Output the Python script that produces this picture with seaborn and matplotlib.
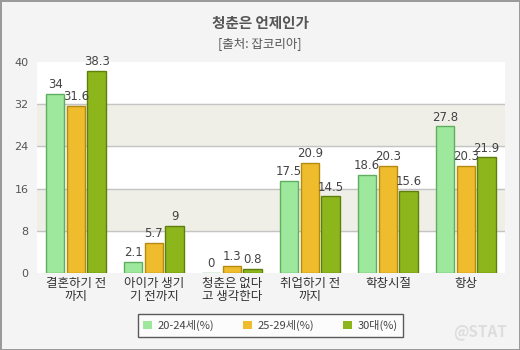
import matplotlib
matplotlib.use("Agg")
import matplotlib.pyplot as plt
import seaborn as sns
import pandas as pd

categories = ["결혼하기 전\n까지", "아이가 생기\n기 전까지", "청춘은 없다\n고 생각한다", "취업하기 전\n까지", "학창시절", "항상"]
series_names = ["20-24세(%)", "25-29세(%)", "30대(%)"]
s20_24 = [34, 2.1, 0, 17.5, 18.6, 27.8]
s25_29 = [31.6, 5.7, 1.3, 20.9, 20.3, 20.3]
s30 = [38.3, 9, 0.8, 14.5, 15.6, 21.9]
yticks = [0, 8, 16, 24, 32, 40]

sns.set_theme(style="white")
plt.rcParams['font.family'] = ['Noto Sans CJK KR', 'DejaVu Sans']

rows = []
for name, vals in zip(series_names, [s20_24, s25_29, s30]):
    for c, v in zip(categories, vals):
        rows.append({"cat": c, "series": name, "value": v})
df = pd.DataFrame(rows)

colors = ["#9ee89e", "#eebc2c", "#8db51c"]
edges = ["#5fae5f", "#b58a10", "#5e7f0c"]

fig = plt.figure(figsize=(5.2, 3.5), dpi=100, facecolor="#f4f4f4", edgecolor="#9a9a9a", linewidth=2)
ax = fig.add_axes([0.071, 0.22, 0.9, 0.603])
ax.set_facecolor("white")

for lo, hi in [(8, 16), (24, 32)]:
    ax.axhspan(lo, hi, color="#efefe8", zorder=0)
for y in [8, 16, 24, 32]:
    ax.axhline(y, color="#c4c4c4", lw=1, zorder=0.5)

sns.barplot(data=df, x="cat", y="value", hue="series", palette=colors,
            width=0.8, ax=ax, saturation=1, legend=True, zorder=2)

for i, cont in enumerate(ax.containers):
    for p in cont:
        w = p.get_width()
        p.set_x(p.get_x() + w * 0.05)
        p.set_width(w * 0.9)
        p.set_edgecolor(edges[i])
        p.set_linewidth(1.0)
    ax.bar_label(cont, labels=[f"{v:g}" for v in cont.datavalues], padding=2,
                 fontsize=8.5, color="#444444", family="DejaVu Sans")

ax.set_ylim(0, 40)
ax.set_yticks(yticks)
ax.set_yticklabels([str(t) for t in yticks], family="DejaVu Sans", fontsize=8, color="#555555")
ax.set_xlim(-0.5, 5.5)
ax.tick_params(axis="y", length=0, pad=6)
ax.tick_params(axis="x", length=0, pad=3, labelsize=9, labelcolor="#333333")
for lbl in ax.get_xticklabels():
    lbl.set_linespacing(1.0)
ax.set_xlabel("")
ax.set_ylabel("")
for s in ax.spines.values():
    s.set_visible(False)

handles, labels = ax.get_legend_handles_labels()
ax.get_legend().remove()
leg = fig.legend(handles, labels, loc="center", bbox_to_anchor=(0.52, 0.07), ncol=3,
                 frameon=True, fancybox=False, fontsize=8, handlelength=0.8, handleheight=0.8,
                 columnspacing=2.6, handletextpad=0.5, borderpad=0.5)
leg.get_frame().set_edgecolor("#333333")
leg.get_frame().set_linewidth(1)
for h in leg.legend_handles:
    h.set_edgecolor("none")
for t in leg.get_texts():
    t.set_color("#444444")

fig.text(0.5, 0.935, "청춘은 언제인가", ha="center", va="center", fontsize=10.5, fontweight="bold", color="#555555")
fig.text(0.5, 0.875, "[출처: 잡코리아]", ha="center", va="center", fontsize=9, color="#555555")
fig.text(0.975, 0.05, "@STAT", ha="right", va="center", fontsize=11, fontweight="bold", color="#dddddd")

fig.savefig("out.png", dpi=100, facecolor=fig.get_facecolor(), edgecolor=fig.get_edgecolor())
